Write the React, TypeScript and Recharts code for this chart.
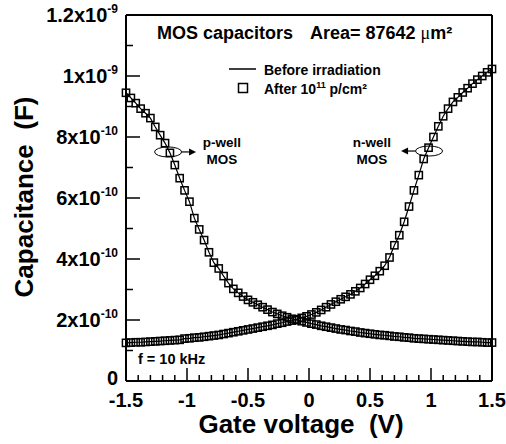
import React from 'react';
import {
  ComposedChart,
  Line,
  XAxis,
  YAxis,
  ReferenceLine,
  ReferenceDot,
} from 'recharts';

// Gate voltage sweep (V)
const gateVoltage = [
  -1.5, -1.46, -1.42, -1.38, -1.34, -1.3, -1.26, -1.22, -1.18, -1.14,
  -1.1, -1.06, -1.02, -0.98, -0.94, -0.9, -0.86, -0.82, -0.78, -0.74,
  -0.7, -0.66, -0.62, -0.58, -0.54, -0.5, -0.46, -0.42, -0.38, -0.34,
  -0.3, -0.26, -0.22, -0.18, -0.14, -0.1, -0.06, -0.02, 0.02, 0.06,
  0.1, 0.14, 0.18, 0.22, 0.26, 0.3, 0.34, 0.38, 0.42, 0.46,
  0.5, 0.54, 0.58, 0.62, 0.66, 0.7, 0.74, 0.78, 0.82, 0.86,
  0.9, 0.94, 0.98, 1.02, 1.06, 1.1, 1.14, 1.18, 1.22, 1.26,
  1.3, 1.34, 1.38, 1.42, 1.46, 1.5,
];

// capacitance in pF (1e-12 F)
const pWellCap = [
  945, 928, 911, 893, 878, 862, 833, 806, 780, 748,
  708, 665, 625, 588, 534, 497, 462, 422, 388, 369,
  344, 321, 302, 289, 277, 266, 258, 250, 242, 234,
  226, 220, 214, 209, 204, 200, 196, 192, 188, 185,
  181, 178, 175, 172, 169, 167, 164, 162, 159, 157,
  155, 153, 151, 150, 148, 146, 145, 143, 142, 140,
  139, 138, 137, 136, 135, 134, 133, 132, 131, 130,
  129, 128, 128, 127, 126, 126,
];

const nWellCap = [
  125, 126, 127, 127, 128, 129, 130, 131, 132, 133,
  134, 135, 139, 140, 142, 143, 145, 147, 149, 151,
  154, 157, 160, 163, 166, 169, 172, 175, 178, 181,
  184, 188, 191, 195, 198, 202, 207, 212, 218, 225,
  233, 242, 251, 260, 268, 276, 284, 294, 305, 318,
  332, 345, 360, 378, 405, 445, 478, 522, 572, 625,
  675, 728, 765, 800, 835, 868, 893, 915, 930, 946,
  960, 975, 988, 1000, 1012, 1023,
];

const xTicks = [
  -1.5, -1.4, -1.3, -1.2, -1.1, -1, -0.9, -0.8, -0.7, -0.6,
  -0.5, -0.4, -0.3, -0.2, -0.1, 0, 0.1, 0.2, 0.3, 0.4,
  0.5, 0.6, 0.7, 0.8, 0.9, 1, 1.1, 1.2, 1.3, 1.4, 1.5,
];
const xTickLabels: Record<string, string> = {
  '-1.5': '-1.5', '-1': '-1', '-0.5': '-0.5', '0': '0', '0.5': '0.5', '1': '1', '1.5': '1.5',
};

const yTicks = [0, 100, 200, 300, 400, 500, 600, 700, 800, 900, 1000, 1100, 1200];
const yTickLabels: Record<string, [string, string]> = {
  '0': ['0', ''],
  '200': ['2x10', '-10'],
  '400': ['4x10', '-10'],
  '600': ['6x10', '-10'],
  '800': ['8x10', '-10'],
  '1000': ['1x10', '-9'],
  '1200': ['1.2x10', '-9'],
};

const data = gateVoltage.map((v, i) => ({
  v,
  pWell: pWellCap[i],
  nWell: nWellCap[i],
}));

const FONT = '"Liberation Sans", Arial, sans-serif';

const XTick = (props: any) => {
  const { x, y, payload } = props;
  const label = xTickLabels[String(payload.value)];
  return (
    <g>
      <line x1={x} x2={x} y1={y} y2={y - (label ? 13 : 6)} stroke="#000" strokeWidth={1.5} />
      {label && (
        <text x={x} y={y + 26} textAnchor="middle" fontFamily={FONT} fontWeight="bold" fontSize={20} fill="#000">
          {label}
        </text>
      )}
    </g>
  );
};

const YTick = (props: any) => {
  const { x, y, payload } = props;
  const label = yTickLabels[String(payload.value)];
  // the zero label sits a little higher so it clears the x labels
  const dy = payload.value === 0 ? 4 : 7;
  return (
    <g>
      <line x1={x} x2={x + (label ? 14 : 7)} y1={y} y2={y} stroke="#000" strokeWidth={1.5} />
      {label && (
        <text x={x - 8} y={y + dy} textAnchor="end" fontFamily={FONT} fontWeight="bold" fontSize={20} fill="#000">
          {label[0]}
          {label[1] && (
            <tspan fontSize={12} dy={-9}>
              {label[1]}
            </tspan>
          )}
        </text>
      )}
    </g>
  );
};

const Square = (props: any) => {
  const { cx, cy, index } = props;
  if (cx == null || cy == null) return <g key={index} />;
  return (
    <rect key={index} x={cx - 3.6} y={cy - 3.6} width={7.2} height={7.2} fill="none" stroke="#000" strokeWidth={1.5} />
  );
};

// ellipse around a curve with an arrow pointing to its label
const Marker = (dir: 1 | -1) => (props: any) => {
  const { cx, cy } = props;
  const rx = 13.5;
  const start = cx + dir * rx;
  const tip = cx + dir * 28;
  return (
    <g>
      <ellipse cx={cx} cy={cy} rx={rx} ry={5} fill="none" stroke="#000" strokeWidth={1} />
      <line x1={start} x2={tip - dir * 5} y1={cy} y2={cy} stroke="#000" strokeWidth={1.2} />
      <polygon
        points={`${tip},${cy} ${tip - dir * 7},${cy - 3.5} ${tip - dir * 7},${cy + 3.5}`}
        fill="#000"
      />
    </g>
  );
};

const boldText = { fontFamily: FONT, fontWeight: 'bold' as const, fill: '#000' };

export default function App() {
  return (
    <div style={{ position: 'absolute', left: 0, top: 0, width: 506, height: 444, background: '#fff' }}>
      <ComposedChart width={506} height={444} data={data} margin={{ top: 15, right: 14, bottom: 0, left: 0 }}>
        <XAxis
          dataKey="v"
          type="number"
          domain={[-1.5, 1.5]}
          ticks={xTicks}
          interval={0}
          height={63}
          tickSize={0}
          tickMargin={0}
          tickLine={false}
          tick={<XTick />}
          axisLine={{ stroke: '#000', strokeWidth: 2 }}
        />
        <YAxis
          type="number"
          domain={[0, 1200]}
          ticks={yTicks}
          interval={0}
          width={126}
          tickSize={0}
          tickMargin={0}
          tickLine={false}
          tick={<YTick />}
          axisLine={{ stroke: '#000', strokeWidth: 2 }}
        />
        <ReferenceLine y={1200} stroke="#000" strokeWidth={2} ifOverflow="visible" />
        <ReferenceLine x={1.5} stroke="#000" strokeWidth={2} ifOverflow="visible" />

        {/* before irradiation: solid lines */}
        <Line dataKey="pWell" stroke="#000" strokeWidth={1.2} dot={false} isAnimationActive={false} type="linear" />
        <Line dataKey="nWell" stroke="#000" strokeWidth={1.2} dot={false} isAnimationActive={false} type="linear" />
        {/* after 1e11 p/cm2: open squares */}
        <Line dataKey="pWell" stroke="none" dot={Square} activeDot={false} isAnimationActive={false} />
        <Line dataKey="nWell" stroke="none" dot={Square} activeDot={false} isAnimationActive={false} />

        <ReferenceDot x={-1.155} y={751} shape={Marker(1)} ifOverflow="visible" />
        <ReferenceDot x={0.984} y={754} shape={Marker(-1)} ifOverflow="visible" />
      </ComposedChart>

      <svg
        width={506}
        height={444}
        style={{ position: 'absolute', left: 0, top: 0, pointerEvents: 'none' }}
      >
        <text x={157} y={39} fontSize={18} {...boldText}>MOS capacitors</text>
        <text x={310} y={39} fontSize={18} {...boldText}>
          Area= 87642{' '}
          <tspan fontFamily='"Liberation Serif", serif' fontWeight="normal">μ</tspan>
          m²
        </text>

        <line x1={229} x2={256} y1={69} y2={69} stroke="#000" strokeWidth={1.5} />
        <text x={264} y={75} fontSize={14} {...boldText}>Before irradiation</text>
        <rect x={238.5} y={83.5} width={9} height={9} fill="none" stroke="#000" strokeWidth={1.5} />
        <text x={264} y={94} fontSize={14} {...boldText}>
          After 10<tspan fontSize={9} dy={-6}>11</tspan>
          <tspan dy={6}> p/cm²</tspan>
        </text>

        <text x={222} y={147} fontSize={13.5} textAnchor="middle" {...boldText}>p-well</text>
        <text x={222} y={164} fontSize={13.5} textAnchor="middle" {...boldText}>MOS</text>
        <text x={372} y={147} fontSize={13.5} textAnchor="middle" {...boldText}>n-well</text>
        <text x={372} y={164} fontSize={13.5} textAnchor="middle" {...boldText}>MOS</text>

        <text x={138} y={364} fontSize={14.5} {...boldText}>f = 10 kHz</text>

        <text x={301} y={433} fontSize={26} textAnchor="middle" {...boldText} style={{ whiteSpace: 'pre' }}>
          {'Gate voltage  (V)'}
        </text>
        <text
          x={33}
          y={197}
          fontSize={26}
          textAnchor="middle"
          transform="rotate(-90 33 197)"
          {...boldText}
          style={{ whiteSpace: 'pre' }}
        >
          {'Capacitance  (F)'}
        </text>
      </svg>
    </div>
  );
}
